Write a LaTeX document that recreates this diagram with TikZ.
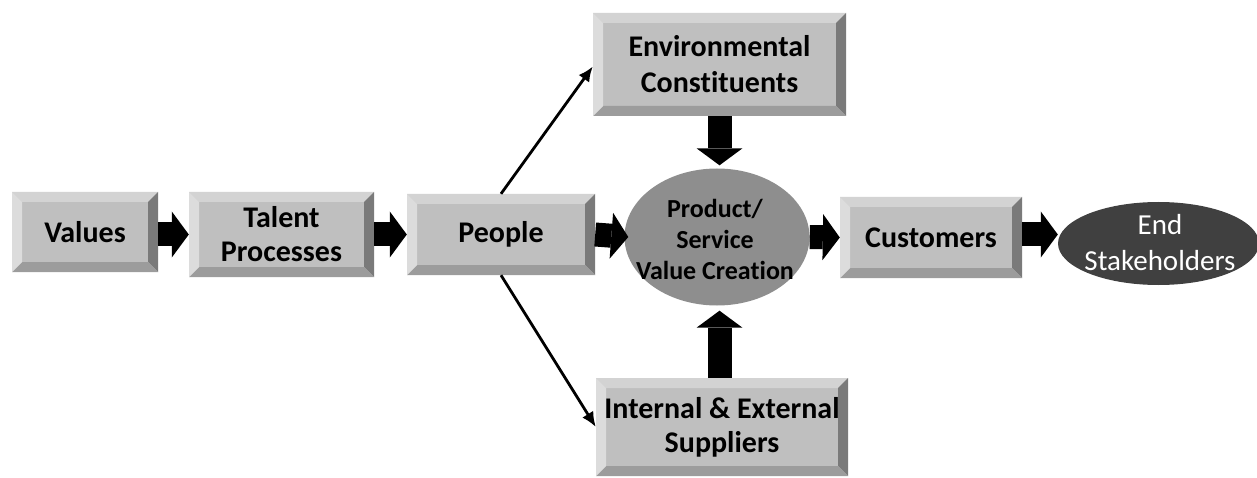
\documentclass[tikz,border=0pt]{standalone}
\usepackage{fontspec}
\setmainfont{Carlito}[Ligatures=NoCommon]
\usetikzlibrary{arrows.meta,calc,shapes.geometric}

\definecolor{bvface}{HTML}{BFBFBF}
\definecolor{bvtop}{HTML}{D3D3D3}
\definecolor{bvleft}{HTML}{DCDCDC}
\definecolor{bvright}{HTML}{7A7A7A}
\definecolor{bvbottom}{HTML}{9C9C9C}
\definecolor{prodgray}{HTML}{8E8E8E}
\definecolor{enddark}{HTML}{404040}

\tikzset{
  bevelbox/.style={
    rectangle, inner sep=0pt, fill=bvface, align=center,
    font=\bfseries\fontsize{30pt}{34pt}\selectfont,
    path picture={
      \coordinate (bSW) at (path picture bounding box.south west);
      \coordinate (bNE) at (path picture bounding box.north east);
      \coordinate (bNW) at (bSW |- bNE);
      \coordinate (bSE) at (bNE |- bSW);
      \fill[bvtop]    (bNW) -- (bNE) -- ($(bNE)+(-10pt,-10pt)$) -- ($(bNW)+(10pt,-10pt)$) -- cycle;
      \fill[bvright]  (bNE) -- (bSE) -- ($(bSE)+(-10pt,10pt)$) -- ($(bNE)+(-10pt,-10pt)$) -- cycle;
      \fill[bvbottom] (bSE) -- (bSW) -- ($(bSW)+(10pt,10pt)$) -- ($(bSE)+(-10pt,10pt)$) -- cycle;
      \fill[bvleft]   (bSW) -- (bNW) -- ($(bNW)+(10pt,-10pt)$) -- ($(bSW)+(10pt,10pt)$) -- cycle;
    }
  },
  oval/.style={ellipse, inner sep=0pt},
  ovaltext/.style={inner sep=0pt, align=center},
  fatarrow/.style={draw=black, line width=24pt,
    -{Triangle[length=17pt 0 0, width=46pt 0 0, line width=0pt 0 0]}},
  thinarrow/.style={draw=black, line width=2.8pt,
    -{Latex[length=15pt 0 0, width=13pt 0 0]}}
}

\begin{document}
\begin{tikzpicture}[x=1pt,y=1pt]
  \useasboundingbox (0,0) rectangle (1257,477);

  % chain of bevelled boxes
  \node[bevelbox, minimum width=146pt, minimum height=80pt] (values) at (85,245) {Values};
  \node[bevelbox, minimum width=185pt, minimum height=85pt] (talent) at (281.5,242.5) {Talent\\Processes};
  \node[bevelbox, minimum width=188pt, minimum height=81pt] (people) at (501,242.5) {People};
  \node[bevelbox, minimum width=253pt, minimum height=103pt,
        font=\bfseries\fontsize{30pt}{36pt}\selectfont] (env) at (719.5,412.5) {Environmental\\Constituents};
  \node[bevelbox, minimum width=252pt, minimum height=98pt] (supp) at (722,50) {Internal \& External\\Suppliers};
  \node[bevelbox, minimum width=182pt, minimum height=81pt] (cust) at (931,239.5) {Customers};

  % value creation hub and end stakeholders (shape and text kept apart)
  \node[oval, fill=prodgray, minimum width=185pt, minimum height=137pt] (prod) at (717,240) {};
  \node[ovaltext, font=\bfseries\fontsize{26pt}{31pt}\selectfont] (prodtext) at (715,238)
        {Product/\\Service\\Value Creation};
  \node[oval, fill=enddark, minimum width=201pt, minimum height=83pt] (end) at (1158.5,233.5) {};
  \node[ovaltext, text=white, font=\fontsize{29pt}{36pt}\selectfont] (endtext) at (1160,234)
        {End\\Stakeholders};

  % block arrows
  \draw[fatarrow] (values.east |- people) -- (talent.west |- people);
  \draw[fatarrow] (talent.east |- people) -- (people.west);
  \draw[fatarrow] (people.east) -- ([xshift=4pt]prod.west);
  \draw[fatarrow] (prod.east) -- (cust.west);
  \draw[fatarrow] (cust.east |- people) -- (end.west |- people);
  \draw[fatarrow] (env.south) -- ([yshift=3pt]env.south |- prod.north);
  \draw[fatarrow] (supp.north -| env.south) -- ([yshift=-5pt]env.south |- prod.south);

  % thin arrows from People
  \draw[thinarrow] (people.north) -- ([yshift=-2pt]env.west);
  \draw[thinarrow] (people.south) -- (supp.west);
\end{tikzpicture}
\end{document}
